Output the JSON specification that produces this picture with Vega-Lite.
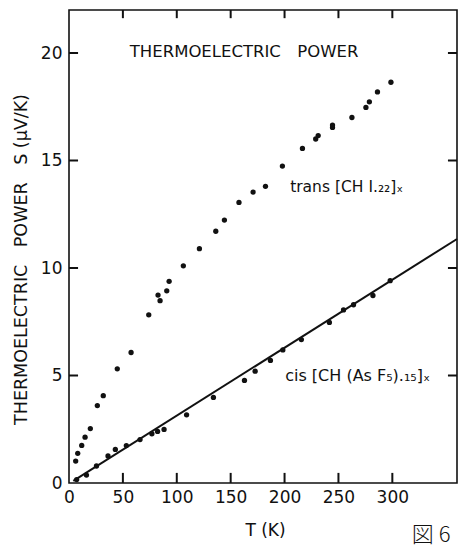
{
  "$schema": "https://vega.github.io/schema/vega-lite/v6.json",
  "width": 388,
  "height": 473,
  "autosize": {"type": "none"},
  "padding": {"left": 69, "top": 10, "right": 8, "bottom": 64},
  "background": "white",
  "config": {
    "view": {"stroke": "#111", "strokeWidth": 1.6},
    "font": "DejaVu Sans",
    "axis": {
      "grid": false,
      "domain": false,
      "ticks": false,
      "labelColor": "#111",
      "labelFont": "DejaVu Sans",
      "labelFontSize": 17,
      "titleColor": "#111",
      "titleFont": "DejaVu Sans",
      "titleFontWeight": "normal"
    }
  },
  "datasets": {
    "trans": [
      {"T": 6.2, "S": 1.02}, {"T": 8.1, "S": 1.38}, {"T": 11.8, "S": 1.75}, {"T": 14.9, "S": 2.13},
      {"T": 19.8, "S": 2.53}, {"T": 26.3, "S": 3.6}, {"T": 31.8, "S": 4.06}, {"T": 44.8, "S": 5.31},
      {"T": 57.6, "S": 6.07}, {"T": 74, "S": 7.82}, {"T": 82.6, "S": 8.74}, {"T": 84.5, "S": 8.48},
      {"T": 90.7, "S": 8.94}, {"T": 92.9, "S": 9.38}, {"T": 106.1, "S": 10.1}, {"T": 121, "S": 10.9},
      {"T": 136.2, "S": 11.71}, {"T": 144.2, "S": 12.23}, {"T": 157.7, "S": 13.05}, {"T": 170.8, "S": 13.53},
      {"T": 182.3, "S": 13.8}, {"T": 198, "S": 14.74}, {"T": 216.6, "S": 15.56}, {"T": 228.9, "S": 16.0},
      {"T": 231.2, "S": 16.16}, {"T": 244.5, "S": 16.54}, {"T": 244.5, "S": 16.65}, {"T": 262.5, "S": 17.0},
      {"T": 275.5, "S": 17.47}, {"T": 278.7, "S": 17.73}, {"T": 286.2, "S": 18.19}, {"T": 298.7, "S": 18.64}
    ],
    "cis": [
      {"T": 7.1, "S": 0.16}, {"T": 16.2, "S": 0.37}, {"T": 25.5, "S": 0.79}, {"T": 36.2, "S": 1.26},
      {"T": 43, "S": 1.56}, {"T": 53.2, "S": 1.74}, {"T": 65.9, "S": 2.02}, {"T": 76.9, "S": 2.29},
      {"T": 82.2, "S": 2.4}, {"T": 88.2, "S": 2.49}, {"T": 109.1, "S": 3.17}, {"T": 134, "S": 3.98},
      {"T": 162.8, "S": 4.77}, {"T": 172.7, "S": 5.2}, {"T": 186.9, "S": 5.7}, {"T": 198.4, "S": 6.19},
      {"T": 215.6, "S": 6.67}, {"T": 241.6, "S": 7.47}, {"T": 254.7, "S": 8.05}, {"T": 264, "S": 8.29},
      {"T": 282, "S": 8.72}, {"T": 298, "S": 9.41}
    ],
    "fit": [
      {"T": 4, "S": 0.1}, {"T": 360, "S": 11.35}
    ],
    "xticks": [{"T": 50}, {"T": 100}, {"T": 150}, {"T": 200}, {"T": 250}, {"T": 300}],
    "yticks": [{"S": 5}, {"S": 10}, {"S": 15}, {"S": 20}],
    "one": [{}]
  },
  "layer": [
    {
      "data": {"name": "trans"},
      "mark": {"type": "circle", "size": 28, "color": "#111", "opacity": 1},
      "encoding": {
        "x": {
          "field": "T", "type": "quantitative",
          "scale": {"domain": [0, 360], "nice": false, "zero": false},
          "axis": {
            "orient": "bottom", "values": [0, 50, 100, 150, 200, 250, 300],
            "labelPadding": 6, "labelFlush": false, "labelOverlap": false,
            "title": "T (K)", "titleFontSize": 17, "titleBaseline": "alphabetic", "titleY": 52, "titleX": 196
          }
        },
        "y": {
          "field": "S", "type": "quantitative",
          "scale": {"domain": [0, 22], "nice": false, "zero": false},
          "axis": {
            "orient": "left", "values": [0, 5, 10, 15, 20],
            "labelPadding": 7, "labelFlush": false, "labelOverlap": false,
            "title": "THERMOELECTRIC\u2003POWER\u2003S (\u03bcV/K)", "titleFontSize": 17.5,
            "titleX": -48, "titleY": 249, "titleAngle": -90, "titleBaseline": "middle", "titleAlign": "center"
          }
        }
      }
    },
    {
      "data": {"name": "cis"},
      "mark": {"type": "circle", "size": 28, "color": "#111", "opacity": 1},
      "encoding": {
        "x": {"field": "T", "type": "quantitative", "axis": null},
        "y": {"field": "S", "type": "quantitative", "axis": null}
      }
    },
    {
      "data": {"name": "fit"},
      "mark": {"type": "line", "color": "#111", "strokeWidth": 2},
      "encoding": {
        "x": {"field": "T", "type": "quantitative", "axis": null},
        "y": {"field": "S", "type": "quantitative", "axis": null}
      }
    },
    {
      "data": {"name": "xticks"},
      "mark": {"type": "rule", "color": "#111", "strokeWidth": 2},
      "encoding": {
        "x": {"field": "T", "type": "quantitative", "axis": null},
        "y": {"datum": 0, "type": "quantitative", "axis": null},
        "y2": {"datum": 0.47}
      }
    },
    {
      "data": {"name": "xticks"},
      "mark": {"type": "rule", "color": "#111", "strokeWidth": 2},
      "encoding": {
        "x": {"field": "T", "type": "quantitative", "axis": null},
        "y": {"datum": 22, "type": "quantitative", "axis": null},
        "y2": {"datum": 21.62}
      }
    },
    {
      "data": {"name": "yticks"},
      "mark": {"type": "rule", "color": "#111", "strokeWidth": 2},
      "encoding": {
        "y": {"field": "S", "type": "quantitative", "axis": null},
        "x": {"datum": 0, "type": "quantitative", "axis": null},
        "x2": {"datum": 8.4}
      }
    },
    {
      "data": {"name": "yticks"},
      "mark": {"type": "rule", "color": "#111", "strokeWidth": 2},
      "encoding": {
        "y": {"field": "S", "type": "quantitative", "axis": null},
        "x": {"datum": 360, "type": "quantitative", "axis": null},
        "x2": {"datum": 351.6}
      }
    },
    {
      "data": {"name": "one"},
      "mark": {"type": "text", "text": "THERMOELECTRIC\u2003POWER", "font": "DejaVu Sans", "fontSize": 16.5, "align": "center", "baseline": "alphabetic", "color": "#111"},
      "encoding": {
        "x": {"datum": 162.5, "type": "quantitative", "axis": null},
        "y": {"datum": 19.81, "type": "quantitative", "axis": null}
      }
    },
    {
      "data": {"name": "one"},
      "mark": {"type": "text", "text": "trans  [CH I.\u2082\u2082]\u2093", "font": "DejaVu Sans", "fontSize": 15.5, "align": "left", "baseline": "alphabetic", "color": "#111"},
      "encoding": {
        "x": {"datum": 205.2, "type": "quantitative", "axis": null},
        "y": {"datum": 13.53, "type": "quantitative", "axis": null}
      }
    },
    {
      "data": {"name": "one"},
      "mark": {"type": "text", "text": "cis [CH (As F\u2085).\u2081\u2085]\u2093", "font": "DejaVu Sans", "fontSize": 16, "align": "left", "baseline": "alphabetic", "color": "#111"},
      "encoding": {
        "x": {"datum": 200.6, "type": "quantitative", "axis": null},
        "y": {"datum": 4.74, "type": "quantitative", "axis": null}
      }
    },
    {
      "data": {"name": "one"},
      "mark": {"type": "text", "text": "図 6", "font": "Noto Sans CJK JP", "fontSize": 22, "fontWeight": 300, "align": "center", "baseline": "alphabetic", "color": "#111"},
      "encoding": {
        "x": {"datum": 336, "type": "quantitative", "axis": null},
        "y": {"datum": -2.75, "type": "quantitative", "axis": null}
      }
    }
  ],
  "resolve": {"axis": {"x": "independent", "y": "independent"}}
}
